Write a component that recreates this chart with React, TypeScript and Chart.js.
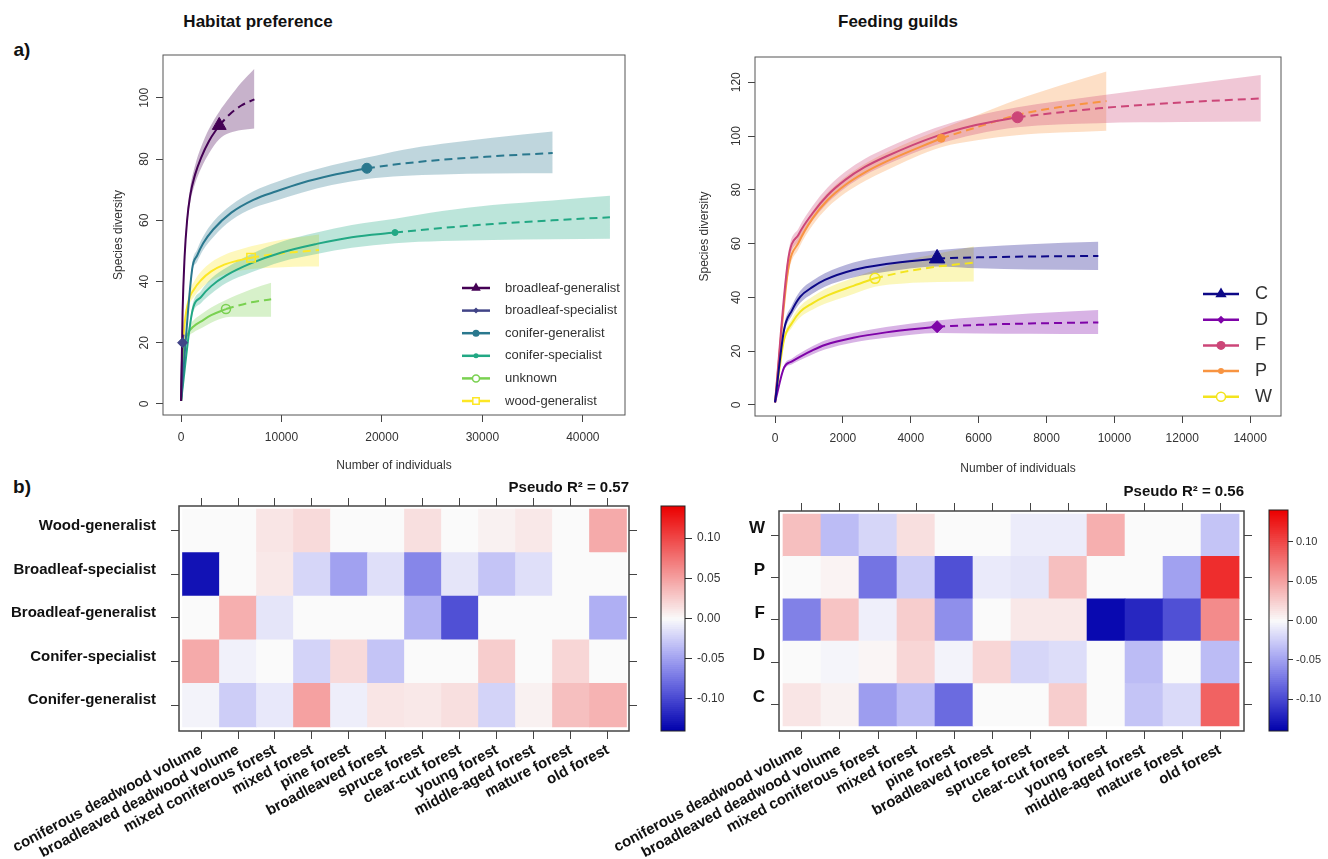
import React, { useEffect, useRef } from 'react';
import { Chart, registerables } from 'chart.js';

Chart.register(...registerables);

const FONT = '"Liberation Sans", Arial, Helvetica, sans-serif';
Chart.defaults.font.family = FONT;
Chart.defaults.color = '#333';

// ---------------- Panel a) left: Habitat preference ----------------
const HAB_XTICKS = [0, 10000, 20000, 30000, 40000];
const HAB_YTICKS = [0, 20, 40, 60, 80, 100];
const HAB_LABELS = ['broadleaf-generalist', 'broadleaf-specialist', 'conifer-generalist', 'conifer-specialist', 'unknown', 'wood-generalist'];
const HAB_COLORS = ['#440154', '#414487', '#2A788E', '#22A884', '#7AD151', '#FDE725'];

const BG_X = [1, 150, 350, 600, 900, 1400, 2000, 2800, 3800, 4800, 6000, 7300];
const BG_Y = [1, 30, 48, 60, 68, 75, 80.5, 86, 91, 94.5, 97.5, 99.5];
const BG_LO = [1, 29, 46, 58, 65.5, 72, 77, 82, 86.5, 88.5, 89.5, 90];
const BG_HI = [1, 31, 50, 62, 70.5, 78, 84, 90, 95.5, 100, 105, 109.5];
const BG_OBS = 8;

const BS_X = [1, 40, 90, 150, 220, 300];
const BS_Y = [1, 8, 14, 20, 22, 23.5];
const BS_LO = [1, 7, 12, 17, 18, 19];
const BS_HI = [1, 9, 16, 23, 26, 28];
const BS_OBS = 3;

const CG_X = [1, 1100, 1600, 2200, 3200, 5000, 7200, 9500, 12000, 15000, 18500, 22000, 26000, 31000, 37000];
const CG_Y = [1, 44, 48.5, 52.5, 57, 62.5, 66.7, 69.5, 72.2, 74.7, 77, 78.5, 79.8, 80.9, 82];
const CG_LO = [1, 42.5, 46.5, 50.3, 54.5, 60, 64, 66.5, 69, 71.5, 73.5, 74.5, 75, 75.3, 75.4];
const CG_HI = [1, 45.5, 50.5, 54.7, 59.5, 65, 69.5, 72.5, 75.3, 78, 80.5, 83, 85, 87, 89];
const CG_OBS = 10;

const CS_X = [1, 1100, 2000, 3000, 4500, 7000, 10000, 13500, 17000, 21300, 26000, 31000, 37000, 42700];
const CS_Y = [1, 30, 35, 38.5, 42, 46, 49.5, 52.3, 54.5, 56, 57.5, 58.8, 60, 61];
const CS_LO = [1, 28.5, 33, 36, 39.5, 43, 46.5, 49, 51, 52.5, 53.2, 53.6, 53.8, 54];
const CS_HI = [1, 31.5, 37, 41, 44.5, 49, 53, 56, 58.5, 60.5, 63, 65, 66.5, 68];
const CS_OBS = 9;

const UN_X = [1, 250, 700, 1300, 2000, 3000, 4470, 5500, 7000, 8970];
const UN_Y = [1, 17, 23, 25.5, 27, 29, 31, 32, 33.2, 34.2];
const UN_LO = [1, 16, 21.5, 23.5, 24.7, 26.5, 28.3, 28.5, 28.5, 28.5];
const UN_HI = [1, 18, 24.5, 27.5, 29.3, 31.5, 34, 35.5, 37.5, 39.6];
const UN_OBS = 6;

const WG_X = [1, 250, 700, 1300, 2000, 3000, 4300, 5600, 6970, 9000, 11300, 13730];
const WG_Y = [1, 22, 33, 37.5, 40.5, 43.3, 45.5, 46.8, 47.8, 48.8, 49.6, 50.3];
const WG_LO = [1, 21, 31, 35, 37.7, 40.3, 42.3, 43.4, 44.1, 44.5, 44.8, 44.9];
const WG_HI = [1, 23, 35, 40, 43.3, 46.3, 48.7, 50.2, 51.5, 53, 54.3, 55.4];
const WG_OBS = 8;

// ---------------- Panel a) right: Feeding guilds ----------------
const FG_XTICKS = [0, 2000, 4000, 6000, 8000, 10000, 12000, 14000];
const FG_YTICKS = [0, 20, 40, 60, 80, 100, 120];
const FG_LABELS = ['C', 'D', 'F', 'P', 'W'];
const FG_COLORS = ['#0D0887', '#7E03A8', '#CC4678', '#F89441', '#F3E41E'];

const C_X = [1, 265, 500, 746, 1100, 1468, 2310, 3272, 4776, 6000, 7500, 9528];
const C_Y = [1, 27.9, 35.2, 40.3, 43.8, 46.5, 50.2, 52.4, 54.5, 54.9, 55.2, 55.4];
const C_LO = [1, 26.3, 33.3, 38, 41.4, 44, 47.4, 49.5, 51.5, 50.8, 50.4, 50.2];
const C_HI = [1, 29.5, 37.1, 42.5, 46.2, 49, 53, 55.3, 57.5, 58.7, 59.8, 60.7];
const C_OBS = 8;

const D_X = [1, 265, 500, 746, 1100, 1468, 2310, 3272, 4776, 6000, 7500, 9528];
const D_Y = [1, 13.9, 16.2, 18, 20.3, 22.3, 25, 27, 29.1, 29.8, 30.3, 30.7];
const D_LO = [1, 13, 15.1, 16.7, 18.8, 20.6, 23.2, 25, 26.8, 26.6, 26.5, 26.4];
const D_HI = [1, 14.8, 17.3, 19.3, 21.8, 24, 26.8, 29, 31.4, 32.7, 34, 35.3];
const D_OBS = 8;

const F_X = [1, 385, 700, 1107, 1550, 2069, 2650, 3272, 4716, 5919, 7146, 9528, 12000, 14316];
const F_Y = [1, 53.9, 63.5, 71.3, 78, 83.7, 88.5, 92.4, 99.8, 104.1, 107, 110.3, 112.5, 114];
const F_LO = [1, 51.8, 61.2, 68.6, 75.1, 80.7, 85.4, 89.3, 96.6, 100.7, 103.3, 104.8, 105.2, 105.4];
const F_HI = [1, 56, 65.8, 74, 80.9, 86.7, 91.6, 95.5, 103, 107.5, 110.7, 115, 119, 122.7];
const F_OBS = 10;

const P_X = [1, 385, 700, 1107, 1550, 2069, 2650, 3272, 4896, 6000, 7122, 8400, 9768];
const P_Y = [1, 50.2, 60.5, 69.4, 76.2, 81.8, 86.5, 90.5, 99.2, 103.5, 107.8, 110.8, 113];
const P_LO = [1, 48, 58.2, 66.8, 73.4, 78.8, 83.3, 87.2, 95.8, 98.5, 100.3, 101.3, 102];
const P_HI = [1, 52.5, 62.8, 72, 79, 84.8, 89.7, 93.8, 102.6, 108, 113.5, 118.8, 124];
const P_OBS = 8;

const W_X = [1, 265, 500, 746, 1100, 1468, 2310, 2947, 3800, 4800, 5859];
const W_Y = [1, 24.2, 30.5, 34.7, 37.8, 40.3, 44.3, 47.1, 49.5, 51.5, 52.9];
const W_LO = [1, 23, 28.8, 32.6, 35.4, 37.6, 41.3, 44, 45.2, 45.7, 45.9];
const W_HI = [1, 25.5, 32.2, 36.8, 40.2, 43, 47.3, 50.2, 53.5, 56.3, 58.9];
const W_OBS = 7;

// ---------------- Panel b) heatmaps ----------------
const HM_COLS = ['coniferous deadwood volume', 'broadleaved deadwood volume', 'mixed coniferous forest', 'mixed forest', 'pine forest', 'broadleaved forest', 'spruce forest', 'clear-cut forest', 'young forest', 'middle-aged forest', 'mature forest', 'old forest'];

const HM_L_ROWS = ['Wood-generalist', 'Broadleaf-specialist', 'Broadleaf-generalist', 'Conifer-specialist', 'Conifer-generalist'];
const HM_L_WOOD_GEN = [0, 0, 0.012, 0.018, 0, 0, 0.015, 0, 0.005, 0.01, 0, 0.045];
const HM_L_BROAD_SPEC = [-0.13, 0, 0.01, -0.02, -0.05, -0.015, -0.065, -0.012, -0.03, -0.015, 0, 0];
const HM_L_BROAD_GEN = [0, 0.042, -0.012, 0, 0, 0, -0.04, -0.095, 0, 0, 0, -0.042];
const HM_L_CON_SPEC = [0.045, -0.005, 0, -0.022, 0.018, -0.03, 0, 0, 0.025, 0, 0.02, 0];
const HM_L_CON_GEN = [-0.004, -0.025, -0.01, 0.05, -0.007, 0.012, 0.01, 0.015, -0.022, 0.005, 0.033, 0.04];
const HM_L_R2 = 'Pseudo R² = 0.57';

const HM_R_ROWS = ['W', 'P', 'F', 'D', 'C'];
const HM_R_W = [0.033, -0.035, -0.02, 0.015, 0, 0, -0.008, -0.008, 0.042, 0, 0, -0.03];
const HM_R_P = [0, 0.004, -0.075, -0.025, -0.095, -0.009, -0.012, 0.033, 0, 0, -0.05, 0.115];
const HM_R_F = [-0.068, 0.03, -0.006, 0.025, -0.06, 0, 0.01, 0.01, -0.135, -0.118, -0.095, 0.062];
const HM_R_D = [0, -0.003, 0.003, 0.02, -0.004, 0.02, -0.02, -0.016, 0, -0.035, 0, -0.035];
const HM_R_C = [0.012, 0.005, -0.052, -0.035, -0.08, 0, 0, 0.025, 0, -0.03, -0.018, 0.085];
const HM_R_R2 = 'Pseudo R² = 0.56';

const CBAR_MIN = -0.14;
const CBAR_MAX = 0.14;
const CBAR_TICKS = [-0.1, -0.05, 0, 0.05, 0.1];

// ---------------- helpers ----------------
const alpha = (hex: string, a: number) => {
  const n = parseInt(hex.slice(1), 16);
  return `rgba(${(n >> 16) & 255},${(n >> 8) & 255},${n & 255},${a})`;
};

function heatColor(v: number) {
  const t = Math.max(-1, Math.min(1, v / CBAR_MAX));
  const a = Math.abs(t);
  let r, g, b;
  if (t >= 0) {
    r = 250 - 15 * a; g = 250 * (1 - a); b = 250 * (1 - a);
  } else {
    r = 250 * (1 - a); g = 250 * (1 - a); b = 250 - 80 * a * a;
  }
  return `rgb(${Math.round(r)},${Math.round(g)},${Math.round(b)})`;
}

function drawMarker(ctx: CanvasRenderingContext2D, style: string, x: number, y: number, r: number, color: string, filled: boolean) {
  ctx.save();
  ctx.beginPath();
  if (style === 'circle') {
    ctx.arc(x, y, r, 0, Math.PI * 2);
  } else if (style === 'triangle') {
    ctx.moveTo(x, y - r);
    ctx.lineTo(x + r * 0.866, y + r * 0.5);
    ctx.lineTo(x - r * 0.866, y + r * 0.5);
    ctx.closePath();
  } else if (style === 'rectRot') {
    ctx.moveTo(x, y - r); ctx.lineTo(x + r, y); ctx.lineTo(x, y + r); ctx.lineTo(x - r, y); ctx.closePath();
  } else {
    const h = r * 0.8;
    ctx.rect(x - h, y - h, 2 * h, 2 * h);
  }
  if (filled) { ctx.fillStyle = color; ctx.fill(); }
  else { ctx.fillStyle = '#fff'; ctx.fill(); ctx.strokeStyle = color; ctx.lineWidth = 1.5; ctx.stroke(); }
  ctx.restore();
}

const makeFrame = (color: string, width: number) => ({
  id: 'frame',
  afterDatasetsDraw(chart: any) {
    const { left, top, right, bottom } = chart.chartArea;
    const ctx = chart.ctx;
    ctx.save();
    ctx.strokeStyle = color;
    ctx.lineWidth = width;
    ctx.strokeRect(left, top, right - left, bottom - top);
    ctx.restore();
  },
});

const makeLegend = (items: any[], g: any) => ({
  id: 'rlegend',
  afterDraw(chart: any) {
    const ctx = chart.ctx;
    ctx.save();
    items.forEach((it, i) => {
      const y = g.y0 + i * g.dy;
      ctx.strokeStyle = it.color;
      ctx.lineWidth = g.lineWidth;
      ctx.beginPath(); ctx.moveTo(g.x1, y); ctx.lineTo(g.x2, y); ctx.stroke();
      drawMarker(ctx, it.style, (g.x1 + g.x2) / 2, y, it.r, it.color, it.filled);
      ctx.fillStyle = '#333';
      ctx.font = `${g.fontSize}px ${FONT}`;
      ctx.textBaseline = 'middle';
      ctx.textAlign = 'left';
      ctx.fillText(it.label, g.xt, y);
    });
    ctx.restore();
  },
});

function curveConfig(series: any[], g: any) {
  const datasets: any[] = [];
  series.forEach((s) => {
    const pts = (arr: number[]) => s.x.map((x: number, i: number) => ({ x, y: arr[i] }));
    datasets.push({ data: pts(s.hi), fill: '+1', backgroundColor: alpha(s.color, g.bandAlpha), borderColor: 'rgba(0,0,0,0)', borderWidth: 0, pointRadius: 0, order: 3, cubicInterpolationMode: 'monotone' });
    datasets.push({ data: pts(s.lo), fill: false, borderColor: 'rgba(0,0,0,0)', borderWidth: 0, pointRadius: 0, order: 3, cubicInterpolationMode: 'monotone' });
  });
  series.forEach((s) => {
    const line = s.x.map((x: number, i: number) => ({ x, y: s.y[i] }));
    datasets.push({ data: line.slice(0, s.obs + 1), borderColor: s.color, borderWidth: 2, pointRadius: 0, fill: false, order: 2, cubicInterpolationMode: 'monotone' });
    datasets.push({ data: line.slice(s.obs), borderColor: s.color, borderWidth: 2, borderDash: [8, 5], pointRadius: 0, fill: false, order: 2, cubicInterpolationMode: 'monotone' });
  });
  series.forEach((s) => {
    datasets.push({
      data: [{ x: s.x[s.obs], y: s.y[s.obs] }], showLine: false, pointStyle: s.mk.style, pointRadius: s.mk.r,
      pointBackgroundColor: s.mk.filled ? s.color : 'rgba(0,0,0,0)', pointBorderColor: s.color, pointBorderWidth: s.mk.filled ? 1 : 1.5, order: 1,
    });
  });
  const legendItems = series.map((s) => ({ label: s.label, color: s.color, style: s.lg.style, r: s.lg.r, filled: s.lg.filled }));
  return {
    type: 'line',
    data: { datasets },
    options: {
      responsive: false, animation: false, devicePixelRatio: 1,
      layout: { padding: { top: g.padTop, right: g.padRight, left: 0, bottom: 0 } },
      plugins: { legend: { display: false }, tooltip: { enabled: false } },
      scales: {
        x: {
          type: 'linear', min: g.xmin, max: g.xmax,
          afterBuildTicks: (s: any) => { s.ticks = g.xticks.map((v: number) => ({ value: v })); },
          afterFit: (s: any) => { s.height = g.xh; },
          grid: { drawOnChartArea: false, drawTicks: true, tickLength: 7, color: '#444' },
          border: { display: false },
          ticks: { autoSkip: false, maxRotation: 0, minRotation: 0, padding: 8, color: '#333', font: { size: 12 }, callback: (v: any) => String(v) },
          title: { display: true, text: 'Number of individuals', color: '#333', font: { size: 12 }, padding: { top: 0, bottom: g.xTitlePad } },
        },
        y: {
          type: 'linear', min: g.ymin, max: g.ymax,
          afterBuildTicks: (s: any) => { s.ticks = g.yticks.map((v: number) => ({ value: v })); },
          afterFit: (s: any) => { s.width = g.yw; },
          grid: { drawOnChartArea: false, drawTicks: true, tickLength: 7, color: '#444' },
          border: { display: false },
          ticks: { autoSkip: false, minRotation: 90, maxRotation: 90, crossAlign: 'center', padding: 1, color: '#333', font: { size: 12 }, callback: (v: any) => String(v) },
          title: { display: true, text: 'Species diversity', color: '#333', font: { size: 12 }, padding: { top: g.yTitlePad, bottom: 0 } },
        },
      },
    },
    plugins: [makeFrame('#555', 1), makeLegend(legendItems, g.legend)],
  };
}

function heatConfig(rows: number[][], rowLabels: string[], r2: string, g: any) {
  const nR = rows.length;
  const data: any[] = [];
  const colors: string[] = [];
  rows.forEach((row, r) => row.forEach((v, c) => {
    const yi = nR - 1 - r;
    data.push({ x: c, y: [yi - 0.5, yi + 0.5] });
    colors.push(heatColor(v));
  }));
  const tickGrid = { display: true, drawOnChartArea: false, drawTicks: true, tickLength: 8, color: '#444', offset: false };
  const colTicks = (s: any) => { s.ticks = HM_COLS.map((_, i) => ({ value: i })); };
  const rowTicks = (s: any) => { s.ticks = rowLabels.map((_, i) => ({ value: i })); };
  return {
    type: 'bar',
    data: { datasets: [{ data, backgroundColor: colors, borderWidth: 0, barPercentage: 1, categoryPercentage: 1, grouped: false }] },
    options: {
      responsive: false, animation: false, devicePixelRatio: 1,
      layout: { padding: 0 },
      plugins: { legend: { display: false }, tooltip: { enabled: false } },
      scales: {
        x: {
          type: 'linear', position: 'bottom', min: g.xmin, max: g.xmax, offset: false,
          afterBuildTicks: colTicks,
          afterFit: (s: any) => { s.height = g.bottomH; s.paddingLeft = 0; s.paddingRight = 0; },
          grid: tickGrid, border: { display: false },
          ticks: { autoSkip: false, minRotation: 28, maxRotation: 28, padding: 2, color: '#111', font: { size: 15, weight: 'bold' }, callback: (v: any) => HM_COLS[v] },
        },
        xTop: {
          type: 'linear', position: 'top', min: g.xmin, max: g.xmax, offset: false,
          afterBuildTicks: colTicks,
          afterFit: (s: any) => { s.height = g.topH; s.paddingLeft = 0; s.paddingRight = 0; },
          grid: tickGrid, border: { display: false },
          ticks: { display: false },
          title: { display: true, text: r2, align: 'end', color: '#111', font: { size: 15, weight: 'bold' }, padding: { top: g.r2Pad, bottom: 0 } },
        },
        y: {
          type: 'linear', position: 'left', min: g.ymin, max: g.ymax,
          afterBuildTicks: rowTicks,
          afterFit: (s: any) => { s.width = g.leftW; },
          grid: tickGrid, border: { display: false },
          ticks: { autoSkip: false, padding: g.rowPad, labelOffset: g.rowOffset, color: '#111', font: { size: g.rowFont, weight: 'bold' }, callback: (v: any) => rowLabels[nR - 1 - v] },
        },
        yRight: {
          type: 'linear', position: 'right', min: g.ymin, max: g.ymax,
          afterBuildTicks: rowTicks,
          afterFit: (s: any) => { s.width = 11; },
          grid: tickGrid, border: { display: false },
          ticks: { display: false },
        },
      },
    },
    plugins: [makeFrame('#444', 1.5)],
  };
}

function colorbarConfig(g: any) {
  const n = 112;
  const step = (CBAR_MAX - CBAR_MIN) / n;
  const data: any[] = [];
  const colors: string[] = [];
  for (let i = 0; i < n; i++) {
    const a = CBAR_MIN + i * step;
    data.push({ x: 0, y: [a, Math.min(CBAR_MAX, a + step * 1.3)] });
    colors.push(heatColor(a + step / 2));
  }
  return {
    type: 'bar',
    data: { datasets: [{ data, backgroundColor: colors, borderWidth: 0, barPercentage: 1, categoryPercentage: 1, grouped: false }] },
    options: {
      responsive: false, animation: false, devicePixelRatio: 1,
      layout: { padding: { left: g.padLeft, top: g.padTop, bottom: g.padBottom, right: 0 } },
      plugins: { legend: { display: false }, tooltip: { enabled: false } },
      scales: {
        x: { type: 'linear', display: false, min: -0.5, max: 0.5, offset: false, afterBuildTicks: (s: any) => { s.ticks = [{ value: 0 }]; } },
        y: {
          type: 'linear', position: 'right', min: CBAR_MIN, max: CBAR_MAX,
          afterBuildTicks: (s: any) => { s.ticks = CBAR_TICKS.map((v) => ({ value: v })); },
          afterFit: (s: any) => { s.width = g.axisW; },
          grid: { drawOnChartArea: false, drawTicks: true, tickLength: g.tick, color: '#333' },
          border: { display: false },
          ticks: { padding: g.pad, color: '#333', font: { size: g.font }, callback: (v: any) => Number(v).toFixed(2) },
        },
      },
    },
    plugins: [makeFrame('#222', 1)],
  };
}

// ---------------- series tables ----------------
const HAB_MK = [
  { style: 'triangle', r: 8, filled: true }, { style: 'rectRot', r: 5, filled: true }, { style: 'circle', r: 5, filled: true },
  { style: 'circle', r: 3, filled: true }, { style: 'circle', r: 4.5, filled: false }, { style: 'rect', r: 6, filled: false },
];
const HAB_LG = [
  { style: 'triangle', r: 5.5, filled: true }, { style: 'rectRot', r: 3, filled: true }, { style: 'circle', r: 3.5, filled: true },
  { style: 'circle', r: 2.5, filled: true }, { style: 'circle', r: 3.5, filled: false }, { style: 'rect', r: 4, filled: false },
];
const FG_MK = [
  { style: 'triangle', r: 9, filled: true }, { style: 'rectRot', r: 6, filled: true }, { style: 'circle', r: 5.5, filled: true },
  { style: 'circle', r: 4, filled: true }, { style: 'circle', r: 5, filled: false },
];
const FG_LG = [
  { style: 'triangle', r: 6.5, filled: true }, { style: 'rectRot', r: 4, filled: true }, { style: 'circle', r: 4.5, filled: true },
  { style: 'circle', r: 3, filled: true }, { style: 'circle', r: 4.5, filled: false },
];

const habSeries = [
  [BG_X, BG_Y, BG_LO, BG_HI, BG_OBS], [BS_X, BS_Y, BS_LO, BS_HI, BS_OBS], [CG_X, CG_Y, CG_LO, CG_HI, CG_OBS],
  [CS_X, CS_Y, CS_LO, CS_HI, CS_OBS], [UN_X, UN_Y, UN_LO, UN_HI, UN_OBS], [WG_X, WG_Y, WG_LO, WG_HI, WG_OBS],
].map((d: any, i) => ({ label: HAB_LABELS[i], color: HAB_COLORS[i], x: d[0], y: d[1], lo: d[2], hi: d[3], obs: d[4], mk: HAB_MK[i], lg: HAB_LG[i] }));

const fgSeries = [
  [C_X, C_Y, C_LO, C_HI, C_OBS], [D_X, D_Y, D_LO, D_HI, D_OBS], [F_X, F_Y, F_LO, F_HI, F_OBS],
  [P_X, P_Y, P_LO, P_HI, P_OBS], [W_X, W_Y, W_LO, W_HI, W_OBS],
].map((d: any, i) => ({ label: FG_LABELS[i], color: FG_COLORS[i], x: d[0], y: d[1], lo: d[2], hi: d[3], obs: d[4], mk: FG_MK[i], lg: FG_LG[i] }));

// ---------------- components ----------------
function ChartCanvas({ left, top, width, height, make }: any) {
  const ref = useRef<HTMLCanvasElement>(null);
  useEffect(() => {
    const chart = new Chart(ref.current as HTMLCanvasElement, make());
    return () => chart.destroy();
  }, []);
  return <canvas ref={ref} width={width} height={height} style={{ position: 'absolute', left, top, width, height }} />;
}

const label = (text: string, x: number, y: number, size: number) => (
  <div style={{ position: 'absolute', left: x, top: y, transform: 'translate(-50%, -50%)', font: `bold ${size}px ${FONT}`, color: '#111', whiteSpace: 'nowrap' }}>{text}</div>
);

export default function App() {
  return (
    <div style={{ position: 'absolute', left: 0, top: 0, width: 1328, height: 859, background: '#fff', overflow: 'hidden' }}>
      {label('Habitat preference', 258, 22, 17)}
      {label('Feeding guilds', 898, 22, 17)}
      {label('a)', 22, 50, 19)}
      {label('b)', 22, 487, 19)}
      <ChartCanvas left={100} top={40} width={580} height={440} make={() => curveConfig(habSeries, {
        xmin: -1800, xmax: 44200, ymin: -3.6, ymax: 114, xticks: HAB_XTICKS, yticks: HAB_YTICKS,
        padTop: 15, padRight: 55, xh: 65, yw: 63, xTitlePad: 7, yTitlePad: 11, bandAlpha: 0.3,
        legend: { x1: 362, x2: 390, xt: 405, y0: 248, dy: 22.6, fontSize: 13, lineWidth: 2.5 },
      })} />
      <ChartCanvas left={690} top={40} width={638} height={440} make={() => curveConfig(fgSeries, {
        xmin: -590, xmax: 14910, ymin: -4.1, ymax: 129.4, xticks: FG_XTICKS, yticks: FG_YTICKS,
        padTop: 17, padRight: 47, xh: 64, yw: 65, xTitlePad: 4, yTitlePad: 7, bandAlpha: 0.3,
        legend: { x1: 513, x2: 549, xt: 565, y0: 254, dy: 25.7, fontSize: 18, lineWidth: 2.5 },
      })} />
      <ChartCanvas left={0} top={470} width={640} height={389} make={() => heatConfig(
        [HM_L_WOOD_GEN, HM_L_BROAD_SPEC, HM_L_BROAD_GEN, HM_L_CON_SPEC, HM_L_CON_GEN], HM_L_ROWS, HM_L_R2, {
          xmin: -0.5946, xmax: 11.5676, ymin: -0.592, ymax: 4.569, bottomH: 128, topH: 36, leftW: 179,
          r2Pad: 9, rowPad: 15, rowOffset: -5, rowFont: 15,
        })} />
      <ChartCanvas left={600} top={470} width={655} height={389} make={() => heatConfig(
        [HM_R_W, HM_R_P, HM_R_F, HM_R_D, HM_R_C], HM_R_ROWS, HM_R_R2, {
          xmin: -0.605, xmax: 11.63, ymin: -0.618, ymax: 4.57, bottomH: 128, topH: 41, leftW: 179,
          r2Pad: 13, rowPad: 6, rowOffset: -7, rowFont: 17,
        })} />
      <ChartCanvas left={650} top={490} width={80} height={260} make={() => colorbarConfig({
        padLeft: 11, padTop: 16, padBottom: 19, axisW: 45, tick: 7, pad: 5, font: 12,
      })} />
      <ChartCanvas left={1255} top={490} width={73} height={260} make={() => colorbarConfig({
        padLeft: 14, padTop: 20, padBottom: 19, axisW: 40, tick: 5, pad: 3, font: 11,
      })} />
    </div>
  );
}
